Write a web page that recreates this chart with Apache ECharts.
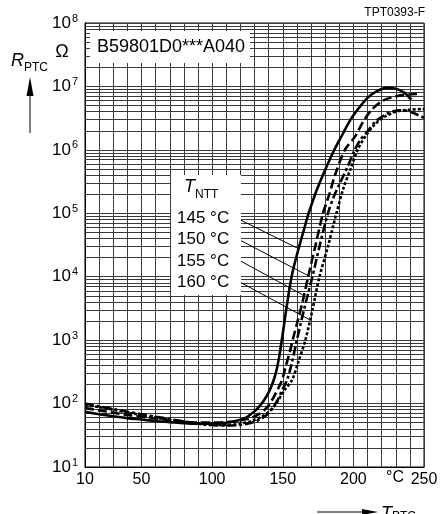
<!DOCTYPE html>
<html>
<head>
<meta charset="utf-8">
<script src="https://cdn.jsdelivr.net/npm/echarts@6/dist/echarts.min.js"></script>
<style>
  html, body { margin: 0; padding: 0; background: #fff; }
  #chart { width: 443px; height: 514px; }
</style>
</head>
<body>
<div id="chart"></div>
<script>
// 读图得到的数据 [T (°C), R (Ω)]
const curve145 = [[10,74],[20,68],[30,63],[40,59],[50,56],[60,53],[70,51],[80,49],[90,48],[100,48],[110,50],[118,54],[124,60],[129,72],[133,88],[137,115],[140,150],[143,215],[145.5,330],[147.5,550],[149,900],[150.5,1500],[152,2600],[153.5,4300],[155,7000],[157,12000],[159.5,20000],[162,32000],[165,55000],[168,95000],[171,150000],[174,230000],[180,480000],[186,950000],[192,1700000],[198,3000000],[204,4600000],[210,6600000],[217,8500000],[224,9500000],[230,9200000],[236,8000000],[241,6200000]]
const curve150 = [[10,85],[20,78],[30,72],[40,66],[50,62],[60,58],[70,55],[80,52],[90,50],[100,50],[110,51],[120,54],[128,60],[134,70],[139,88],[143,120],[146,160],[149.5,234],[152,380],[155,650],[157,1000],[160,1800],[164,4000],[168,10000],[173,30000],[178.5,100000],[183,200000],[187,400000],[194,1000000],[201,1600000],[207,2800000],[213,4300000],[220,5800000],[226,6600000],[235,7300000],[245,7600000]]
const curve155 = [[10,100],[20,90],[30,82],[40,74],[50,68],[60,62],[70,57],[80,52],[90,49],[100,46],[110,45],[120,46],[128,50],[135,58],[141,75],[146,110],[150,170],[153,234],[156,400],[160,1000],[165,3000],[171,10000],[176,30000],[182,100000],[186,180000],[190.5,300000],[196,550000],[201,1000000],[205,1450000],[209.6,1900000],[215,2700000],[219,3200000],[226,3900000],[233,4200000],[240,4000000],[250,3200000]]
const curve160 = [[10,95],[20,88],[30,80],[40,72],[50,66],[60,60],[70,55],[80,51],[90,48],[100,46],[110,46],[120,48],[128,53],[135,62],[141,77],[146,105],[151,160],[156.5,234],[161,450],[166,1000],[171,3000],[176,10000],[182,30000],[188,100000],[193,250000],[198,500000],[203,1000000],[209,1700000],[215,2500000],[222,3300000],[230,4000000],[240,4300000],[250,4400000]]

const xLabels = [10, 50, 100, 150, 200, 250]
const legendLabels = ['145 °C', '150 °C', '155 °C', '160 °C']
// 引线: 标签端 -> 曲线上的点
const leaderLines = [
  [[116.9, 85000], [160.1, 28400]],
  [[116.9, 40700], [167.2, 10600]],
  [[117.6, 19000], [164.3, 5150]],
  [[118.3, 8570], [169.3, 2080]]
]
// 对数坐标的次网格线 (2..9 × 10^n)
const minorSteps = [2, 3, 4, 5, 6, 7, 8, 9]
const decades = [1, 10, 100, 1000, 10000, 100000, 1000000, 10000000]

const FONT = '"Liberation Sans", Arial, Helvetica, sans-serif'
const GRID_COLOR = '#3a3a3a'

const minorLines = []
decades.forEach(d => minorSteps.forEach(m => { if (d * m > 10 && d * m < 1e8) minorLines.push({ yAxis: d * m }) }))

const chart = echarts.init(document.getElementById('chart'))

const curveSeries = (name, data, dash) => ({
  name,
  type: 'line',
  data,
  symbol: 'none',
  smooth: 0.3,
  z: 5,
  lineStyle: { color: '#000', width: 2.6, type: dash, cap: 'butt' }
})

const option = {
  animation: false,
  backgroundColor: '#fff',
  grid: { left: 85, right: 19, top: 23, bottom: 47, show: true, borderColor: '#000', borderWidth: 1 },
  xAxis: {
    type: 'value',
    min: 10,
    max: 250,
    interval: 10,
    axisLine: { show: true, lineStyle: { color: '#000', width: 1 } },
    axisTick: { show: false },
    splitLine: { show: true, lineStyle: { color: GRID_COLOR, width: 1 } },
    axisLabel: {
      color: '#000',
      fontFamily: FONT,
      fontSize: 16,
      margin: 5,
      showMaxLabel: true,
      formatter: v => xLabels.includes(v) ? String(v) : ''
    }
  },
  yAxis: {
    type: 'log',
    logBase: 10,
    min: 10,
    max: 1e8,
    axisLine: { show: true, lineStyle: { color: '#000', width: 1 } },
    axisTick: { show: false },
    splitLine: { show: true, lineStyle: { color: GRID_COLOR, width: 1 } },
    axisLabel: {
      color: '#000',
      fontFamily: FONT,
      margin: 7,
      formatter: v => '{b|10}{s|' + Math.round(Math.log10(v)) + '}',
      rich: {
        b: { fontSize: 17, fontFamily: FONT, color: '#000', lineHeight: 20 },
        s: { fontSize: 11, fontFamily: FONT, color: '#000', lineHeight: 11, padding: [0, 0, 9, 1] }
      }
    }
  },
  series: [
    {
      name: 'minor',
      type: 'line',
      data: [],
      silent: true,
      z: 1,
      markLine: {
        silent: true,
        symbol: 'none',
        label: { show: false },
        animation: false,
        lineStyle: { color: GRID_COLOR, width: 1, type: 'solid' },
        data: minorLines
      }
    },
    curveSeries('145', curve145, 'solid'),
    curveSeries('150', curve150, [9, 4]),
    curveSeries('155', curve155, [9, 3, 3, 3]),
    curveSeries('160', curve160, [3, 2]),
    {
      name: 'leaders',
      type: 'line',
      data: [],
      silent: true,
      z: 20,
      markLine: {
        silent: true,
        symbol: 'none',
        label: { show: false },
        animation: false,
        lineStyle: { color: '#000', width: 1, type: 'solid' },
        data: leaderLines.map(([a, b]) => [{ coord: a }, { coord: b }])
      }
    }
  ],
  graphic: [
    // 型号框
    { type: 'rect', z: 10, shape: { x: 90, y: 31, width: 160, height: 32 }, style: { fill: '#fff' } },
    { type: 'text', z: 11, x: 97, y: 47, style: { text: 'B59801D0***A040', font: '18px ' + FONT, fill: '#000', verticalAlign: 'middle' } },
    // 图例框
    { type: 'rect', z: 10, shape: { x: 171, y: 175, width: 70, height: 120 }, style: { fill: '#fff' } },
    { type: 'text', z: 11, x: 184, y: 196, style: { text: 'T', font: 'italic 18px ' + FONT, fill: '#000', verticalAlign: 'bottom' } },
    { type: 'text', z: 11, x: 195, y: 201, style: { text: 'NTT', font: '12px ' + FONT, fill: '#000', verticalAlign: 'bottom' } },
    ...legendLabels.map((t, i) => ({
      type: 'text', z: 11, x: 177, y: 218 + i * 21.5,
      style: { text: t, font: '17px ' + FONT, fill: '#000', verticalAlign: 'middle' }
    })),
    // 图号
    { type: 'text', x: 425, y: 13, style: { text: 'TPT0393-F', font: '12px ' + FONT, fill: '#000', align: 'right', verticalAlign: 'middle' } },
    // 纵轴标题
    { type: 'text', x: 62, y: 52, style: { text: 'Ω', font: '18px ' + FONT, fill: '#000', align: 'center', verticalAlign: 'middle' } },
    { type: 'text', x: 11, y: 70, style: { text: 'R', font: 'italic 18px ' + FONT, fill: '#000', verticalAlign: 'bottom' } },
    { type: 'text', x: 24, y: 74, style: { text: 'PTC', font: '12px ' + FONT, fill: '#000', verticalAlign: 'bottom' } },
    { type: 'line', shape: { x1: 30, y1: 133, x2: 30, y2: 90 }, style: { stroke: '#000', lineWidth: 1 } },
    { type: 'polygon', shape: { points: [[30, 77], [26.5, 96], [33.5, 96]] }, style: { fill: '#000' } },
    // 横轴标题
    { type: 'text', x: 395, y: 478, style: { text: '°C', font: '16px ' + FONT, fill: '#000', align: 'center', verticalAlign: 'middle' } },
    { type: 'line', shape: { x1: 317, y1: 512, x2: 366, y2: 512 }, style: { stroke: '#000', lineWidth: 1 } },
    { type: 'polygon', shape: { points: [[378, 512], [362, 509], [362, 515]] }, style: { fill: '#000' } },
    { type: 'text', x: 381, y: 505, style: { text: 'T', font: 'italic 18px ' + FONT, fill: '#000', verticalAlign: 'top' } },
    { type: 'text', x: 392, y: 511, style: { text: 'PTC', font: '12px ' + FONT, fill: '#000', verticalAlign: 'top' } }
  ]
}

chart.setOption(option)
window.addEventListener('resize', () => chart.resize())
</script>
</body>
</html>
